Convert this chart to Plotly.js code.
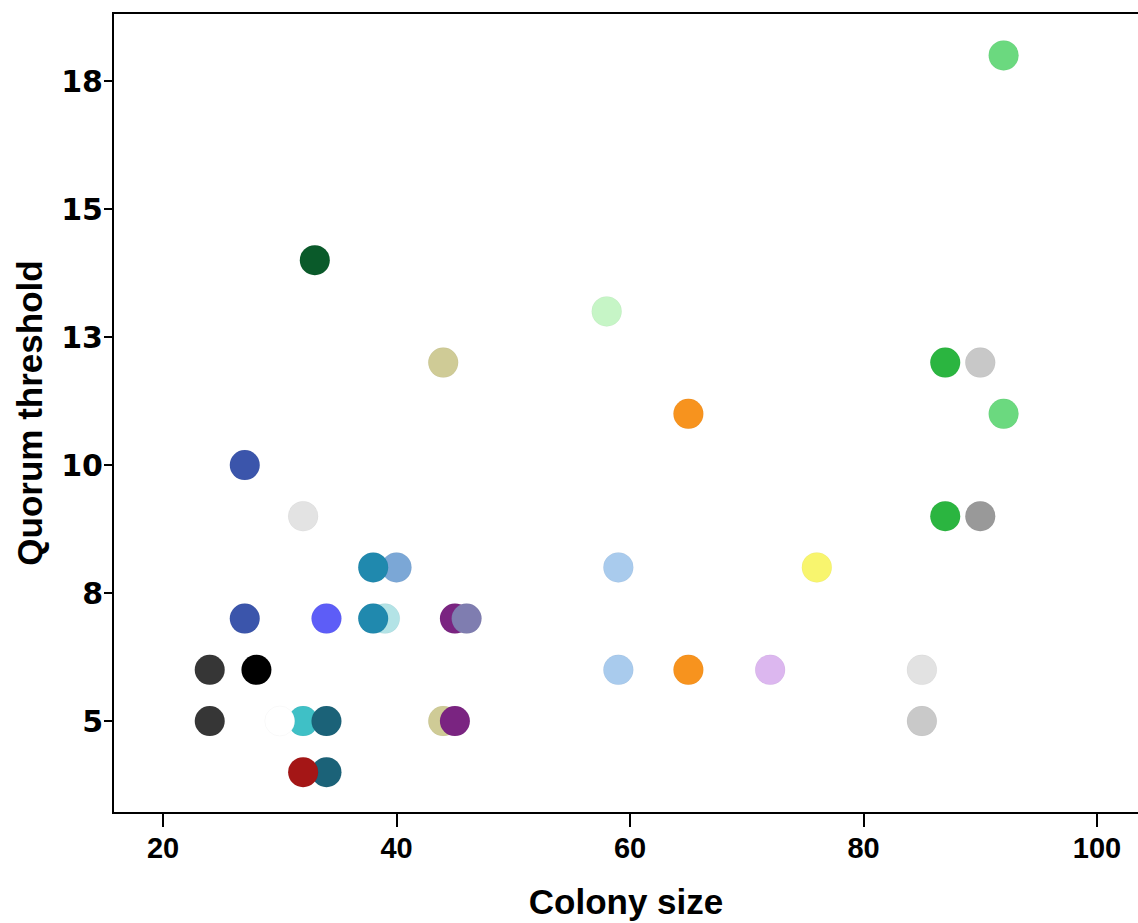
<!DOCTYPE html>
<html>
<head>
<meta charset="utf-8">
<script src="https://cdn.plot.ly/plotly-3.0.1.min.js"></script>
<style>
html,body{margin:0;padding:0;background:#fff;overflow:hidden;}
#chart{width:1138px;height:923px;}
</style>
</head>
<body>
<div id="chart"></div>
<script>
// Data (drawing order matters for overlaps)
var colonySize = [92, 33, 58, 44, 87, 90, 65, 92, 27, 32, 87, 90,
                  40, 38, 59, 76, 27, 34, 39, 38, 45, 46,
                  24, 28, 59, 65, 72, 85,
                  24, 32, 30, 34, 44, 45, 85, 34, 32];
var quorum = [18, 14, 13, 12, 12, 12, 11, 11, 10, 9, 9, 9,
              8, 8, 8, 8, 7, 7, 7, 7, 7, 7,
              6, 6, 6, 6, 6, 6,
              5, 5, 5, 5, 5, 5, 5, 4, 4];
var pointColors = ["#6bd97f", "#0a5a2a", "#c6f5c6", "#cfcb96", "#2bb540", "#c8c8c8", "#f7931e", "#6bd97f", "#3b55ab", "#e3e3e3", "#2bb540", "#999999",
                   "#7ba7d6", "#2089ae", "#a9cbed", "#f8f56e", "#3b55ab", "#5d5df7", "#b3e3e6", "#2089ae", "#7a2481", "#7f7db0",
                   "#363636", "#000000", "#a9cbed", "#f7931e", "#dcb7ef", "#e2e2e2",
                   "#363636", "#3fc0c6", "#ffffff", "#1b6278", "#cfcb96", "#7a2481", "#c9c9c9", "#1b6278", "#a41616"];
var yTickVals = [5, 7.5, 10, 12.5, 15, 17.5];
var yTickText = ["5", "8", "10", "13", "15", "18"];
var xTickVals = [20, 40, 60, 80, 100];
var xTickText = ["20", "40", "60", "80", "100"];

var trace = {
  type: "scatter",
  mode: "markers",
  x: colonySize,
  y: quorum,
  marker: {
    size: 30,
    color: pointColors,
    opacity: 1,
    line: {width: 0.8, color: "rgba(0,0,0,0.04)"}
  },
  hoverinfo: "x+y",
  showlegend: false
};

var layout = {
  width: 1138,
  height: 923,
  margin: {l: 114, r: 0, t: 14, b: 111, pad: 0},
  paper_bgcolor: "#ffffff",
  plot_bgcolor: "#ffffff",
  showlegend: false,
  xaxis: {
    range: [15.8, 103.51],
    tickvals: xTickVals,
    ticktext: xTickText,
    ticks: "outside",
    ticklen: 13,
    tickwidth: 2,
    tickcolor: "#000",
    ticklabelstandoff: -4,
    showgrid: false,
    zeroline: false,
    showline: true,
    mirror: true,
    linecolor: "#000",
    linewidth: 2,
    tickfont: {family: "Liberation Sans, Arial, sans-serif", size: 29, weight: "bold", color: "#000"},
    title: {text: "Colony size", font: {family: "Liberation Sans, Arial, sans-serif", size: 35, weight: "bold", color: "#000"}, standoff: 27},
    automargin: false
  },
  yaxis: {
    range: [3.223, 18.809],
    tickvals: yTickVals,
    ticktext: yTickText,
    ticks: "outside",
    ticklen: 8,
    tickwidth: 2,
    tickcolor: "#000",
    ticklabelstandoff: -5,
    showgrid: false,
    zeroline: false,
    showline: true,
    mirror: false,
    linecolor: "#000",
    linewidth: 2,
    tickfont: {family: "DejaVu Sans, sans-serif", size: 30, weight: "bold", color: "#000"},
    title: {text: "Quorum threshold", font: {family: "Liberation Sans, Arial, sans-serif", size: 35, weight: "bold", color: "#000"}, standoff: 8},
    automargin: false
  }
};

Plotly.newPlot("chart", [trace], layout, {displayModeBar: false, staticPlot: true});
</script>
</body>
</html>
